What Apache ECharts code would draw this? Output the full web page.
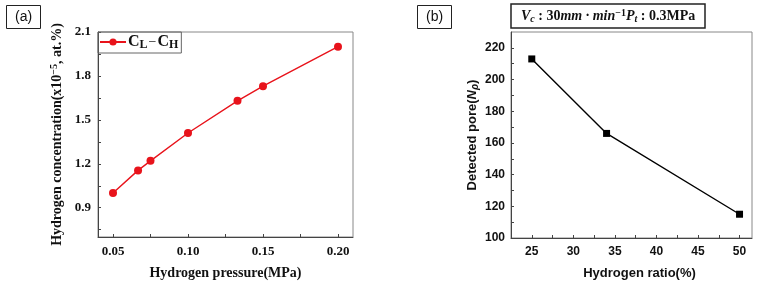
<!DOCTYPE html>
<html>
<head>
<meta charset="utf-8">
<script src="https://cdn.jsdelivr.net/npm/echarts@6/dist/echarts.min.js"></script>
<style>
  html, body { margin: 0; padding: 0; background: #fff; }
  #main { width: 772px; height: 285px; }
</style>
</head>
<body>
<div id="main"></div>
<script>
// (a) hydrogen concentration vs pressure
var pressure = [0.05, 0.0667, 0.075, 0.10, 0.133, 0.15, 0.20];
var concentration = [1.00, 1.155, 1.22, 1.41, 1.63, 1.73, 2.00];
var pressureLabels = [0.05, 0.10, 0.15, 0.20];
var pressureTicks = [0.05, 0.075, 0.10, 0.125, 0.15, 0.175, 0.20];
var concLabels = [0.9, 1.2, 1.5, 1.8, 2.1];
var concTicks = [0.75, 0.9, 1.05, 1.2, 1.35, 1.5, 1.65, 1.8, 1.95, 2.1];

// (b) detected pores vs hydrogen ratio
var ratio = [25, 34, 50];
var pores = [213, 166, 115];
var ratioLabels = [25, 30, 35, 40, 45, 50];
var ratioTicks = [25, 27.5, 30, 32.5, 35, 37.5, 40, 42.5, 45, 47.5, 50];
var poreLabels = [100, 120, 140, 160, 180, 200, 220];
var poreTicks = [100, 110, 120, 130, 140, 150, 160, 170, 180, 190, 200, 210, 220];

var serif = 'Liberation Serif';
var sans = 'Liberation Sans';
var axisColor = '#444';

function pairs(xs, ys) {
  return xs.map(function (x, i) { return [x, ys[i]]; });
}

var chart = echarts.init(document.getElementById('main'));

var option = {
  animation: false,
  title: [
    {
      text: '(a)', left: 6, top: 5,
      borderColor: '#222', borderWidth: 1, padding: [5, 9, 5, 9],
      textStyle: { fontFamily: sans, fontSize: 14, fontWeight: 'normal', color: '#111' }
    },
    {
      text: '(b)', left: 417, top: 5,
      borderColor: '#222', borderWidth: 1, padding: [5, 9, 5, 9],
      textStyle: { fontFamily: sans, fontSize: 14, fontWeight: 'normal', color: '#111' }
    },
    {
      text: '{i|V}{sub|c}{n| : 30}{i|mm · min}{sup|−1}{i|P}{sub|t}{n| : 0.3MPa}',
      left: 511, top: 4,
      borderColor: '#222', borderWidth: 1.5, padding: [4, 10, 4, 10],
      backgroundColor: '#fff',
      textStyle: {
        rich: {
          i: { fontFamily: serif, fontStyle: 'italic', fontWeight: 'bold', fontSize: 14, color: '#111' },
          n: { fontFamily: serif, fontWeight: 'bold', fontSize: 14, color: '#111' },
          sub: { fontFamily: serif, fontStyle: 'italic', fontWeight: 'bold', fontSize: 10, color: '#111', padding: [6, 0, 0, 0] },
          sup: { fontFamily: serif, fontWeight: 'bold', fontSize: 10, color: '#111', padding: [0, 0, 6, 0] }
        }
      }
    }
  ],
  legend: {
    left: 98, top: 32,
    data: ['CL-CH'],
    borderColor: '#666', borderWidth: 1,
    padding: [2, 3, 2, 1],
    itemWidth: 26, itemHeight: 9, itemGap: 4,
    formatter: function () { return '{c|C}{s|L}{m|−}{c|C}{s|H}'; },
    textStyle: {
      padding: [0, 0, 0, -3],
      rich: {
        c: { fontFamily: serif, fontWeight: 'bold', fontSize: 16, color: '#111' },
        s: { fontFamily: serif, fontWeight: 'bold', fontSize: 12, color: '#111', padding: [6, 0, 0, 0] },
        m: { fontFamily: serif, fontSize: 14, color: '#111', padding: [0, 1, 0, 1] }
      }
    }
  },
  grid: [
    { left: 98, top: 32, width: 255, height: 206, show: true, borderColor: '#888', borderWidth: 1 },
    { left: 511, top: 32, width: 241, height: 206, show: true, borderColor: '#888', borderWidth: 1 }
  ],
  xAxis: [
    {
      gridIndex: 0, type: 'value', min: 0.04, max: 0.21,
      name: 'Hydrogen pressure(MPa)', nameLocation: 'middle', nameGap: 29,
      nameTextStyle: { fontFamily: serif, fontWeight: 'bold', fontSize: 14, color: '#111' },
      axisLine: { lineStyle: { color: axisColor } },
      axisTick: { inside: true, length: 3, customValues: pressureTicks, lineStyle: { color: axisColor } },
      axisLabel: {
        customValues: pressureLabels, margin: 8,
        fontFamily: serif, fontWeight: 'bold', fontSize: 13, color: '#111',
        formatter: function (v) { return v.toFixed(2); }
      },
      splitLine: { show: false }
    },
    {
      gridIndex: 1, type: 'value', min: 22.5, max: 51.5,
      name: 'Hydrogen ratio(%)', nameLocation: 'middle', nameGap: 29,
      nameTextStyle: { fontFamily: sans, fontWeight: 'bold', fontSize: 13, color: '#111', padding: [0, 0, 0, 16] },
      axisLine: { lineStyle: { color: axisColor } },
      axisTick: { inside: true, length: 3, customValues: ratioTicks, lineStyle: { color: axisColor } },
      axisLabel: {
        customValues: ratioLabels, margin: 8,
        fontFamily: sans, fontWeight: 'bold', fontSize: 12, color: '#111'
      },
      splitLine: { show: false }
    }
  ],
  yAxis: [
    {
      gridIndex: 0, type: 'value', min: 0.7, max: 2.1,
      name: '{t|Hydrogen concentration(x10}{p|−5}{t|, at.%)}',
      nameLocation: 'middle', nameGap: 33,
      nameTextStyle: {
        rich: {
          t: { fontFamily: serif, fontWeight: 'bold', fontSize: 14, color: '#111' },
          p: { fontFamily: serif, fontWeight: 'bold', fontSize: 10, color: '#111', padding: [0, 0, 6, 0] }
        }
      },
      axisLine: { show: true, lineStyle: { color: axisColor } },
      axisTick: { show: true, inside: true, length: 3, customValues: concTicks, lineStyle: { color: axisColor } },
      axisLabel: {
        customValues: concLabels, margin: 7,
        fontFamily: serif, fontWeight: 'bold', fontSize: 13, color: '#111',
        formatter: function (v) { return v.toFixed(1); }
      },
      splitLine: { show: false }
    },
    {
      gridIndex: 1, type: 'value', min: 100, max: 230,
      name: '{t|Detected pore(}{i|N}{s|ρ}{t|)}',
      nameLocation: 'middle', nameGap: 31,
      nameTextStyle: {
        rich: {
          t: { fontFamily: sans, fontWeight: 'bold', fontSize: 13, color: '#111' },
          i: { fontFamily: sans, fontStyle: 'italic', fontWeight: 'bold', fontSize: 13, color: '#111' },
          s: { fontFamily: sans, fontStyle: 'italic', fontWeight: 'bold', fontSize: 10, color: '#111', padding: [5, 0, 0, 0] }
        }
      },
      axisLine: { show: true, lineStyle: { color: axisColor } },
      axisTick: { show: true, inside: true, length: 3, customValues: poreTicks, lineStyle: { color: axisColor } },
      axisLabel: { customValues: poreLabels, margin: 6, fontFamily: sans, fontWeight: 'bold', fontSize: 12, color: '#111' },
      splitLine: { show: false }
    }
  ],
  series: [
    {
      name: 'CL-CH', type: 'line', xAxisIndex: 0, yAxisIndex: 0,
      data: pairs(pressure, concentration),
      symbol: 'circle', symbolSize: 8,
      lineStyle: { color: '#e8131b', width: 1.4 },
      itemStyle: { color: '#e8131b' }
    },
    {
      name: 'pores', type: 'line', xAxisIndex: 1, yAxisIndex: 1,
      data: pairs(ratio, pores),
      symbol: 'rect', symbolSize: 7,
      lineStyle: { color: '#000', width: 1.4 },
      itemStyle: { color: '#000' }
    }
  ]
};

chart.setOption(option);
</script>
</body>
</html>
